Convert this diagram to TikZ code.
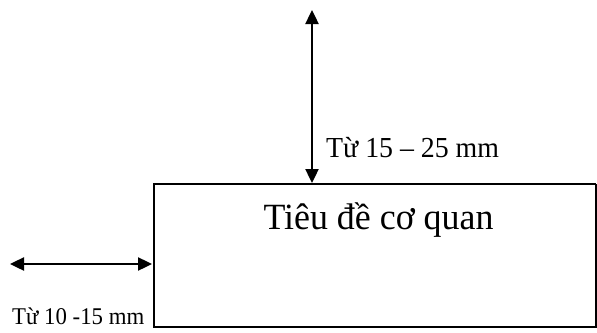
\documentclass[tikz,border=0pt]{standalone}
\usepackage{fontspec}
\setmainfont{Liberation Serif}
\usetikzlibrary{arrows.meta}
\tikzset{
  dimarrow/.style={line width=2.4pt,{Triangle[length=14pt,width=13pt]}-{Triangle[length=14pt,width=13pt]}},
  boxline/.style={line width=2pt},
  lbl/.style={inner sep=0pt,anchor=base west}
}
\begin{document}
\begin{tikzpicture}[x=1pt,y=-1pt]
\useasboundingbox (0,0) rectangle (597,332);
% box
\coordinate (btl) at (154,184);
\coordinate (btr) at (596,184);
\coordinate (bbl) at (154,327);
\coordinate (bbr) at (596,327);
\draw[boxline] (btr) -- (btl) -- (bbl) -- (bbr) -- (btr);
\node[inner sep=0pt,anchor=base,font=\fontsize{37}{40}\selectfont,xscale=0.97] (title) at (378.5,229) {Tiêu đề cơ quan};
% vertical dimension
\coordinate (vtop) at (312,10);
\coordinate (vbot) at (312,183);
\draw[dimarrow] (vtop) -- (vbot);
\node[lbl,font=\fontsize{29}{32}\selectfont,xscale=0.96] (vlabel) at (326,157) {Từ 15 – 25 mm};
% horizontal dimension
\coordinate (hleft) at (10,264);
\coordinate (hright) at (152,264);
\draw[dimarrow] (hleft) -- (hright);
\node[lbl,font=\fontsize{24}{26}\selectfont,xscale=0.95] (hlabel) at (12,324) {Từ 10 -15 mm};
\end{tikzpicture}
\end{document}
